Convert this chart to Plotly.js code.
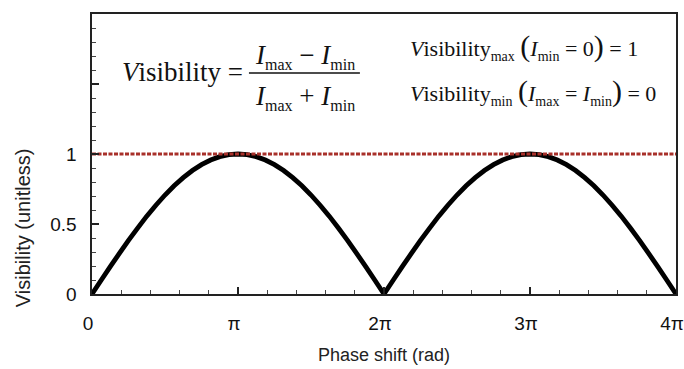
<!DOCTYPE html>
<html>
<head>
<meta charset="utf-8">
<script src="https://cdn.plot.ly/plotly-3.0.1.min.js"></script>
<style>html,body{margin:0;padding:0;background:#fff;}#chart{width:684px;height:369px;}</style>
</head>
<body>
<div id="chart"></div>
<script>
// Phase shift in units of π
const phase = [0,0.0625,0.125,0.1875,0.25,0.3125,0.375,0.4375,0.5,0.5625,0.625,0.6875,0.75,0.8125,0.875,0.9375,
  1,1.0625,1.125,1.1875,1.25,1.3125,1.375,1.4375,1.5,1.5625,1.625,1.6875,1.75,1.8125,1.875,1.9375,
  2,2.0625,2.125,2.1875,2.25,2.3125,2.375,2.4375,2.5,2.5625,2.625,2.6875,2.75,2.8125,2.875,2.9375,
  3,3.0625,3.125,3.1875,3.25,3.3125,3.375,3.4375,3.5,3.5625,3.625,3.6875,3.75,3.8125,3.875,3.9375,4];
const visibility = [0,0.098,0.195,0.290,0.383,0.471,0.556,0.634,0.707,0.773,0.831,0.882,0.924,0.957,0.981,0.995,
  1,0.995,0.981,0.957,0.924,0.882,0.831,0.773,0.707,0.634,0.556,0.471,0.383,0.290,0.195,0.098,
  0,0.098,0.195,0.290,0.383,0.471,0.556,0.634,0.707,0.773,0.831,0.882,0.924,0.957,0.981,0.995,
  1,0.995,0.981,0.957,0.924,0.882,0.831,0.773,0.707,0.634,0.556,0.471,0.383,0.290,0.195,0.098,0];
const limitX = [0,4];
const limitY = [1,1];
const xTickLabels = {"0":"0","1":"π","2":"2π","3":"3π","4":"4π"};
const yTickLabels = {"1.5":"","2":""};

const serif = "Liberation Serif, Times New Roman, serif";
const sans = "Liberation Sans, Arial, Helvetica, sans-serif";
const sub = s => "<sub><span style='font-size:16px'>" + s + "</span></sub>";
const sub2 = s => "<sub><span style='font-size:14px'>" + s + "</span></sub>";
const bigL = "<span style='font-size:30px'>(</span>";
const bigR = "<span style='font-size:30px'>)</span>";

const traces = [
  {x: phase, y: visibility, type: 'scatter', mode: 'lines',
   line: {color: '#000', width: 4.8, simplify: false}, hoverinfo: 'skip'},
  {x: limitX, y: limitY, type: 'scatter', mode: 'lines',
   line: {color: '#a8302a', width: 3, dash: '4px,1.5px'}, hoverinfo: 'skip'}
];

const layout = {
  width: 684, height: 369,
  margin: {l: 92, r: 8, t: 14, b: 75},
  paper_bgcolor: '#fff', plot_bgcolor: '#fff',
  showlegend: false,
  font: {family: sans, size: 19, color: '#111'},
  xaxis: {
    range: [0, 4], tickmode: 'linear', tick0: 0, dtick: 1,
    labelalias: xTickLabels,
    ticks: 'inside', ticklen: 7, tickwidth: 1.3, tickcolor: '#222',
    minor: {dtick: 0.2, ticks: 'inside', ticklen: 4, tickwidth: 1, tickcolor: '#444'},
    showline: true, linecolor: '#222', linewidth: 1.6, mirror: true,
    showgrid: false, zeroline: false,
    ticklabelstandoff: 12, ticklabelshift: -4, ticklabeloverflow: 'allow',
    tickfont: {family: sans, size: 19, color: '#111'},
    title: {text: 'Phase shift (rad)', font: {family: sans, size: 18, color: '#222'}, standoff: 15}
  },
  yaxis: {
    range: [0, 2], tickmode: 'linear', tick0: 0, dtick: 0.5,
    labelalias: yTickLabels,
    ticks: 'inside', ticklen: 7, tickwidth: 1.3, tickcolor: '#222',
    minor: {dtick: 0.1, ticks: 'inside', ticklen: 4, tickwidth: 1, tickcolor: '#444'},
    showline: true, linecolor: '#222', linewidth: 1.6, mirror: true,
    showgrid: false, zeroline: false,
    ticklabelstandoff: 10,
    tickfont: {family: sans, size: 19, color: '#111'}
  },
  shapes: [
    {type: 'line', xref: 'x', yref: 'y', x0: 1.075, x1: 1.835, y0: 1.579, y1: 1.579,
     line: {color: '#111', width: 1.5}}
  ],
  annotations: [
    {xref: 'paper', yref: 'y', x: -0.118, y: 0.471, textangle: -90, showarrow: false,
     text: 'Visibility (unitless)', font: {family: sans, size: 20, color: '#222'},
     xanchor: 'center', yanchor: 'middle'},
    {xref: 'x', yref: 'y', x: 0.19, y: 1.586, showarrow: false, xanchor: 'left', yanchor: 'middle',
     text: '<i>V</i>isibility =', font: {family: serif, size: 27, color: '#111'}},
    {xref: 'x', yref: 'y', x: 1.46, y: 1.70, showarrow: false, xanchor: 'center', yanchor: 'middle',
     text: '<i>I</i>' + sub('max') + ' − <i>I</i>' + sub('min'), font: {family: serif, size: 27, color: '#111'}},
    {xref: 'x', yref: 'y', x: 1.46, y: 1.405, showarrow: false, xanchor: 'center', yanchor: 'middle',
     text: '<i>I</i>' + sub('max') + ' + <i>I</i>' + sub('min'), font: {family: serif, size: 27, color: '#111'}},
    {xref: 'x', yref: 'y', x: 2.164, y: 1.771, showarrow: false, xanchor: 'left', yanchor: 'middle',
     text: '<i>V</i>isibility' + sub2('max') + ' ' + bigL + '<i>I</i>' + sub2('min') + ' = 0' + bigR + ' = 1',
     font: {family: serif, size: 22, color: '#111'}},
    {xref: 'x', yref: 'y', x: 2.164, y: 1.45, showarrow: false, xanchor: 'left', yanchor: 'middle',
     text: '<i>V</i>isibility' + sub2('min') + ' ' + bigL + '<i>I</i>' + sub2('max') + ' = <i>I</i>' + sub2('min') + bigR + ' = 0',
     font: {family: serif, size: 22, color: '#111'}}
  ]
};

Plotly.newPlot('chart', traces, layout, {staticPlot: true, displayModeBar: false});
</script>
</body>
</html>
